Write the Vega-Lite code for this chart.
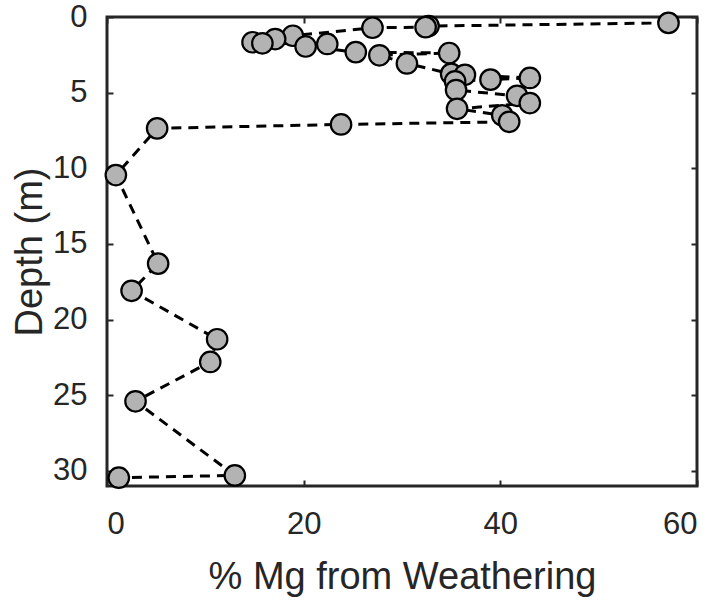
{
  "$schema": "https://vega.github.io/schema/vega-lite/v6.json",
  "autosize": "none",
  "width": 590,
  "height": 469,
  "padding": {"left": 107, "top": 17, "right": 17, "bottom": 114},
  "background": "white",
  "config": {
    "view": {"stroke": "#262626", "strokeWidth": 3},
    "font": "Liberation Sans",
    "axis": {
      "grid": false,
      "domain": false,
      "tickColor": "#262626",
      "tickWidth": 2,
      "tickSize": -6,
      "labelColor": "#262626",
      "labelFont": "Liberation Sans",
      "labelFontSize": 31,
      "titleFont": "Liberation Sans",
      "titleFontSize": 38,
      "titleFontWeight": "normal",
      "titleColor": "#262626"
    }
  },
  "data": {
    "values": [
      {"mg": 57.1, "depth": 0.39},
      {"mg": 32.7, "depth": 0.6},
      {"mg": 32.4, "depth": 0.67},
      {"mg": 27.0, "depth": 0.71},
      {"mg": 18.9, "depth": 1.24},
      {"mg": 17.1, "depth": 1.46},
      {"mg": 14.8, "depth": 1.67},
      {"mg": 15.8, "depth": 1.74},
      {"mg": 22.4, "depth": 1.78},
      {"mg": 20.2, "depth": 1.95},
      {"mg": 25.3, "depth": 2.32},
      {"mg": 34.8, "depth": 2.38},
      {"mg": 27.7, "depth": 2.53},
      {"mg": 30.5, "depth": 3.07},
      {"mg": 35.0, "depth": 3.76},
      {"mg": 36.4, "depth": 3.82},
      {"mg": 43.0, "depth": 4.03},
      {"mg": 39.0, "depth": 4.14},
      {"mg": 35.4, "depth": 4.25},
      {"mg": 35.5, "depth": 4.83},
      {"mg": 41.7, "depth": 5.21},
      {"mg": 43.0, "depth": 5.69},
      {"mg": 35.6, "depth": 6.07},
      {"mg": 40.2, "depth": 6.5},
      {"mg": 40.9, "depth": 6.93},
      {"mg": 23.8, "depth": 7.1},
      {"mg": 5.1, "depth": 7.36},
      {"mg": 0.9, "depth": 10.45},
      {"mg": 5.2, "depth": 16.3},
      {"mg": 2.5, "depth": 18.1},
      {"mg": 11.2, "depth": 21.3},
      {"mg": 10.5, "depth": 22.8},
      {"mg": 2.9, "depth": 25.4},
      {"mg": 13.0, "depth": 30.3},
      {"mg": 1.2, "depth": 30.45}
    ]
  },
  "layer": [
    {
      "mark": {"type": "line", "color": "black", "strokeWidth": 3, "strokeDash": [10, 7]},
      "encoding": {
        "x": {"field": "mg", "type": "quantitative", "scale": {"domain": [0, 60], "nice": false},
              "axis": {"orient": "bottom", "values": [0, 20, 40, 60], "title": "% Mg from Weathering", "labelPadding": 29, "titlePadding": 19}},
        "y": {"field": "depth", "type": "quantitative", "scale": {"domain": [0, 31], "reverse": true, "nice": false, "zero": false},
              "axis": {"orient": "left", "values": [0, 5, 10, 15, 20, 25, 30], "title": "Depth (m)", "labelPadding": 26, "titlePadding": 3}},
        "order": {"field": "depth", "type": "quantitative"}
      }
    },
    {
      "mark": {"type": "point", "shape": "circle", "filled": true, "fill": "#b3b3b3", "stroke": "black", "strokeWidth": 2.2, "size": 420, "opacity": 1},
      "encoding": {
        "x": {"field": "mg", "type": "quantitative",
              "axis": {"orient": "top", "values": [0, 20, 40, 60], "labels": false, "title": null}},
        "y": {"field": "depth", "type": "quantitative",
              "axis": {"orient": "right", "values": [0, 5, 10, 15, 20, 25, 30], "labels": false, "title": null}}
      }
    }
  ]
}
